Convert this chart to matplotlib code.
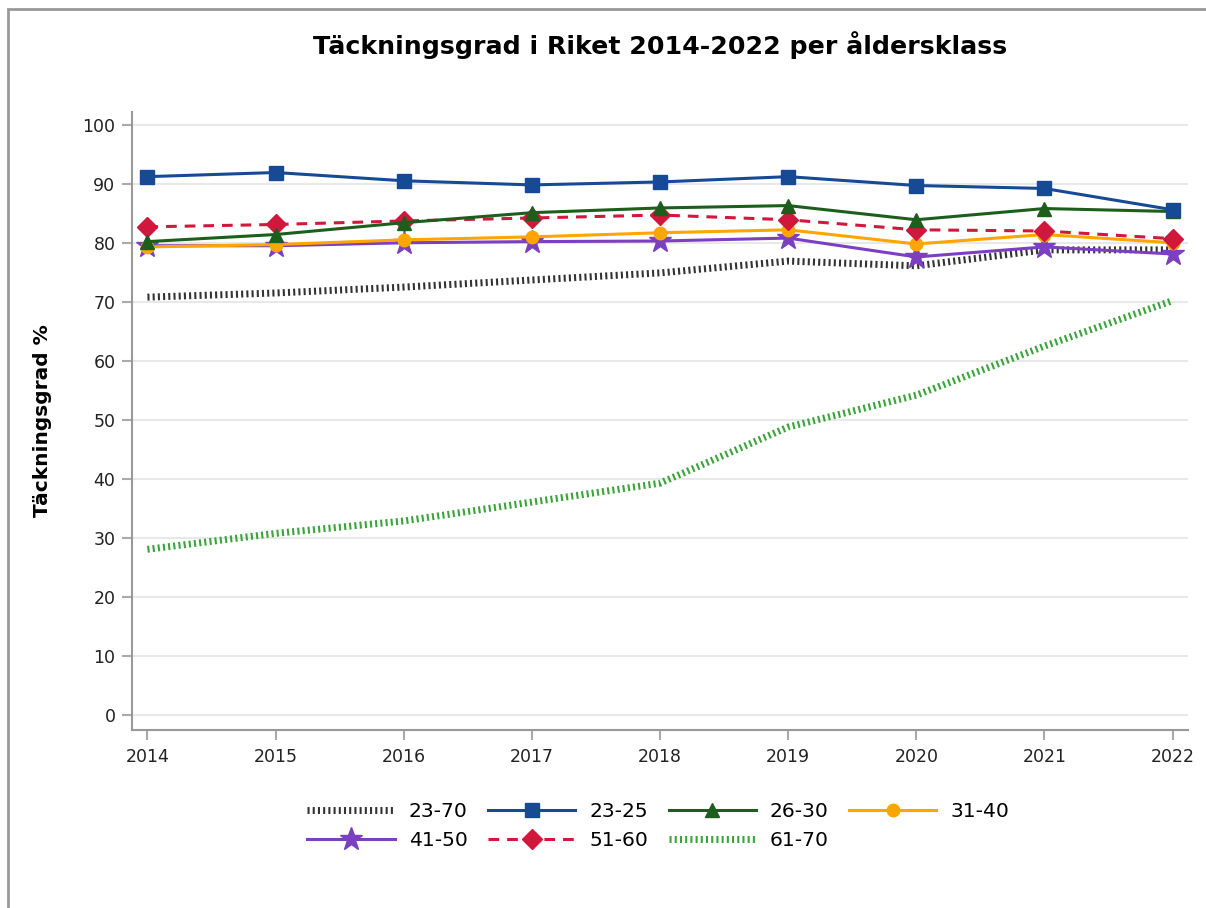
import matplotlib
matplotlib.use("Agg")
from matplotlib import pyplot as plt
from matplotlib.patches import Rectangle

plt.rcParams['font.family'] = ['DejaVu Sans']

years = [2014, 2015, 2016, 2017, 2018, 2019, 2020, 2021, 2022]

# Täckningsgrad (%) per åldersklass
v_23_70 = [70.8, 71.5, 72.5, 73.7, 74.9, 76.9, 76.1, 78.8, 78.8]
v_23_25 = [91.2, 91.9, 90.5, 89.8, 90.3, 91.2, 89.7, 89.2, 85.6]
v_26_30 = [80.2, 81.4, 83.4, 85.1, 85.9, 86.3, 83.9, 85.8, 85.3]
v_31_40 = [79.3, 79.7, 80.5, 81.0, 81.7, 82.2, 79.8, 81.4, 80.0]
v_41_50 = [79.5, 79.5, 80.0, 80.2, 80.3, 80.8, 77.6, 79.3, 78.1]
v_51_60 = [82.7, 83.1, 83.7, 84.2, 84.7, 83.9, 82.2, 82.0, 80.7]
v_61_70 = [28.1, 30.8, 32.9, 36.1, 39.3, 48.8, 54.2, 62.5, 70.2]

y_ticks = [0, 10, 20, 30, 40, 50, 60, 70, 80, 90, 100]

fig = plt.figure(figsize=(12.06, 9.08), dpi=100)
ax = fig.add_axes([0.1095, 0.196, 0.8755, 0.681])

dot = (0, (0.3, 0.45))
h = {}
h['23-70'], = ax.plot(years, v_23_70, color='#333333', lw=5, ls=dot, zorder=2)
h['61-70'], = ax.plot(years, v_61_70, color='#3aa43a', lw=5, ls=dot, zorder=2)
h['41-50'], = ax.plot(years, v_41_50, color='#7b3fc0', lw=2.2, marker='*',
                      markersize=17, zorder=3)
h['31-40'], = ax.plot(years, v_31_40, color='#ffa500', lw=2.2, marker='o',
                      markersize=9, zorder=3)
h['51-60'], = ax.plot(years, v_51_60, color='#d0183c', lw=2.2, ls=(0, (3.5, 2.6)),
                      marker='D', markersize=10, zorder=4)
h['26-30'], = ax.plot(years, v_26_30, color='#1d5e1d', lw=2.2, marker='^',
                      markersize=10, zorder=4)
h['23-25'], = ax.plot(years, v_23_25, color='#174a94', lw=2.2, marker='s',
                      markersize=9.5, zorder=5)

ax.set_xlim(2013.88, 2022.12)
ax.set_ylim(-2.5, 102.2)
ax.set_xticks(years)
ax.set_yticks(y_ticks)
ax.tick_params(labelsize=12.5, labelcolor='#222222', color='#aaaaaa',
               length=7, width=1.5)
ax.tick_params(axis='y', pad=5)
ax.tick_params(axis='x', pad=6)
ax.grid(axis='y', color='#e8e8e8', lw=1.5)
ax.set_axisbelow(True)
for s in ['top', 'right']:
    ax.spines[s].set_visible(False)
for s in ['left', 'bottom']:
    ax.spines[s].set_color('#999999')
    ax.spines[s].set_linewidth(1.5)

ax.set_ylabel('Täckningsgrad %', fontsize=14.5, fontweight='bold')
ax.yaxis.set_label_coords(-0.076, 0.5)
fig.text(0.547, 0.95, 'Täckningsgrad i Riket 2014-2022 per åldersklass',
         ha='center', va='center', fontsize=18.2, fontweight='bold')

order = ['23-70', '41-50', '23-25', '51-60', '26-30', '61-70', '31-40']
fig.legend([h[k] for k in order], order, loc='center', ncol=4,
           bbox_to_anchor=(0.546, 0.090), frameon=False, fontsize=14.6,
           handlelength=4.3, handletextpad=0.7, columnspacing=1.0,
           labelspacing=0.5)

# gray frame at top/left
fig.add_artist(Rectangle((0.007, -0.1), 1.2, 1.09, transform=fig.transFigure,
                         fill=False, edgecolor='#999999', lw=2))

fig.savefig('out.png', dpi=100)
